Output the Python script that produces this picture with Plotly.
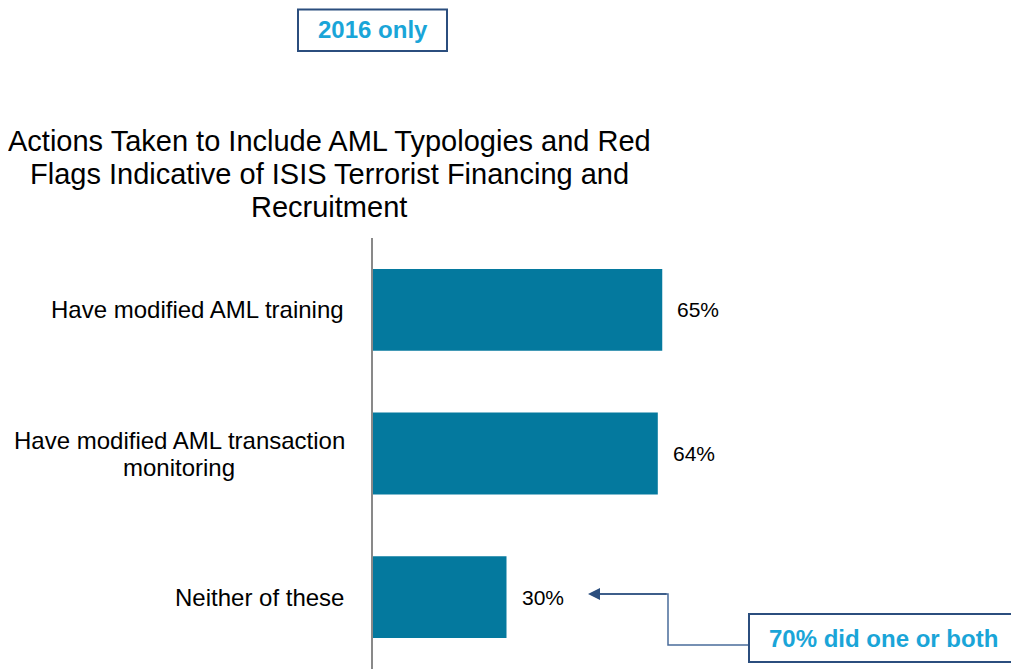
"""
AML typologies chart - 2016 only
"""
import plotly.graph_objects as go

categories = [
    "Have modified AML training",
    "Have modified AML transaction<br>monitoring",
    "Neither of these",
]
values = [65, 64, 30]
value_labels = ["65%", "64%", "30%"]

title_lines = [
    "Actions Taken to Include AML Typologies and Red",
    "Flags Indicative of ISIS Terrorist Financing and",
    "Recruitment",
]

# page offset (body margin) and figure size
OFF = 8
W, H = 1019 - OFF, 669 - OFF
L, R, T, B = 373 - OFF, 201, 238 - OFF, 0
FONT = "Arial, Liberation Sans, sans-serif"
BAR_COLOR = "#04799E"
CYAN = "#1AA5D8"
NAVY = "#2B4E7E"


def px2x(px):
    # page pixel -> paper x
    return (px - OFF - L) / (W - L - R)


def py2y(py):
    # page pixel -> paper y
    return (H - B - (py - OFF)) / (H - T - B)


fig = go.Figure(go.Bar(
    x=values,
    y=categories,
    orientation='h',
    marker=dict(color=BAR_COLOR, line=dict(width=0)),
    width=0.57,
    hoverinfo='skip',
))

annotations = []

# category labels, one annotation per line so spacing stays tight
for cat in categories:
    lines = cat.split("<br>")
    n = len(lines)
    for i, line in enumerate(lines):
        annotations.append(dict(
            x=px2x(346) if n == 1 else px2x(179), xref='paper',
            xanchor='right' if n == 1 else 'center',
            y=cat, yref='y', yanchor='middle',
            yshift=((n - 1) / 2 - i) * 27,
            text=line, showarrow=False,
            font=dict(size=24, family=FONT, color='#000000'),
        ))

# value labels
for cat, v, lab in zip(categories, values, value_labels):
    annotations.append(dict(
        x=v, xref='x', xanchor='left', xshift=13,
        y=cat, yref='y', yanchor='middle',
        text=lab, showarrow=False,
        font=dict(size=21, family=FONT, color='#000000'),
    ))

# title
for i, line in enumerate(title_lines):
    annotations.append(dict(
        x=px2x(329), xref='paper', xanchor='center',
        y=py2y(141 + 33 * i), yref='paper', yanchor='middle',
        text=line, showarrow=False,
        font=dict(size=29, family=FONT, color='#000000'),
    ))

# callout texts
annotations.append(dict(
    x=px2x(372.5), xref='paper', xanchor='center',
    y=py2y(29), yref='paper', yanchor='middle',
    text="<b>2016 only</b>", showarrow=False,
    font=dict(size=24, family=FONT, color=CYAN),
))
annotations.append(dict(
    x=px2x(883), xref='paper', xanchor='center',
    y=py2y(638), yref='paper', yanchor='middle',
    text="<b>70% did one or both</b>", showarrow=False,
    font=dict(size=24, family=FONT, color=CYAN),
))

# arrow head
annotations.append(dict(
    x=px2x(588), xref='paper', y=py2y(594), yref='paper',
    ax=80, ay=0, axref='pixel', ayref='pixel',
    text='', showarrow=True, arrowhead=2, arrowsize=1.6,
    arrowwidth=1.5, arrowcolor=NAVY,
))

shapes = [
    # connector
    dict(type='path', xref='paper', yref='paper',
         path=(f"M {px2x(749)} {py2y(645)} L {px2x(668)} {py2y(645)} "
               f"L {px2x(668)} {py2y(594)} L {px2x(600)} {py2y(594)}"),
         line=dict(color="#4A6C9B", width=1.5)),
    # boxes
    dict(type='rect', xref='paper', yref='paper',
         x0=px2x(298), x1=px2x(447), y0=py2y(51), y1=py2y(9.5),
         line=dict(color=NAVY, width=2), fillcolor='rgba(0,0,0,0)'),
    dict(type='rect', xref='paper', yref='paper',
         x0=px2x(749), x1=px2x(1040), y0=py2y(662), y1=py2y(614),
         line=dict(color=NAVY, width=2), fillcolor='rgba(0,0,0,0)'),
]

fig.update_layout(
    width=W, height=H,
    margin=dict(l=L, r=R, t=T, b=B, pad=0),
    paper_bgcolor='white', plot_bgcolor='white',
    showlegend=False,
    bargap=0.43,
    xaxis=dict(range=[0, 100], visible=False, fixedrange=True),
    yaxis=dict(
        autorange='reversed', showticklabels=False, ticks='',
        showgrid=False, zeroline=False,
        showline=True, linecolor='#898989', linewidth=2,
    ),
    annotations=annotations,
    shapes=shapes,
)

fig.write_html("out.html")
